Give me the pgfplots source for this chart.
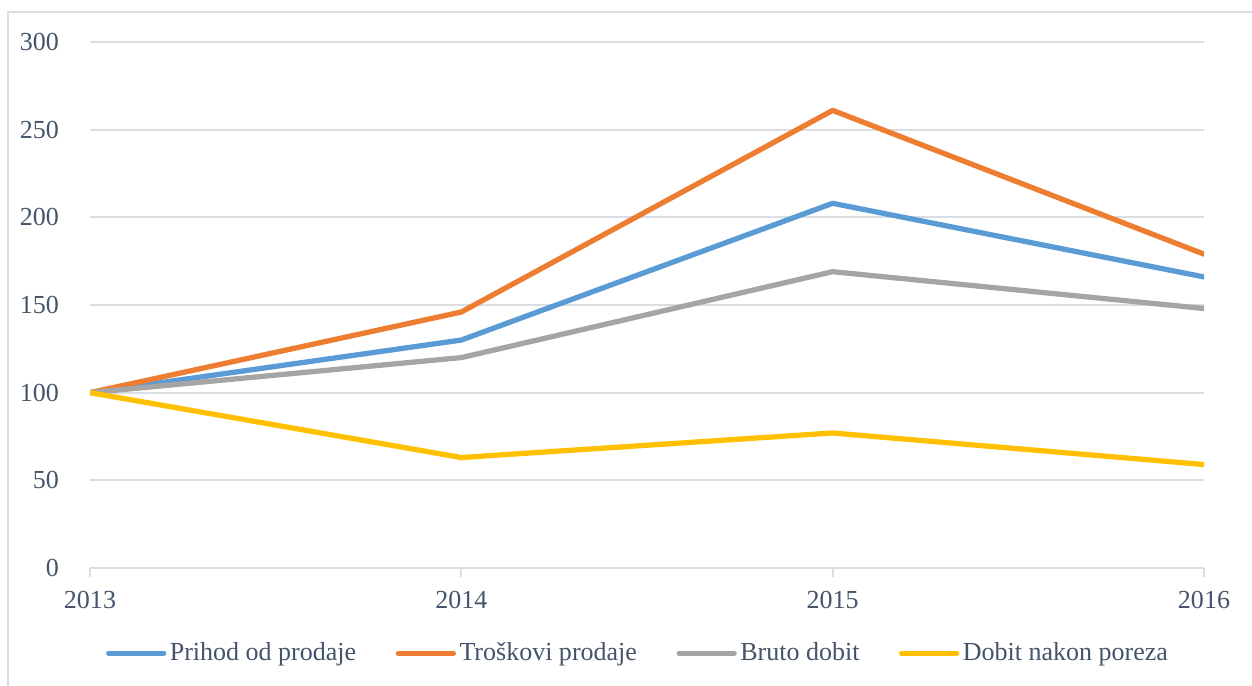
\documentclass[border=0pt]{standalone}
\usepackage{pgfplots}
\pgfplotsset{compat=1.18}
\usepackage{fontspec}
\setmainfont{Liberation Serif}
\definecolor{cblue}{HTML}{5B9BD5}
\definecolor{corange}{HTML}{ED7D31}
\definecolor{cgray}{HTML}{A5A5A5}
\definecolor{cyellow}{HTML}{FFC000}
\definecolor{txt}{HTML}{44546A}
\definecolor{grid}{HTML}{D9DEE4}
\begin{document}
\begin{tikzpicture}
\useasboundingbox (0,0) rectangle (25.04cm,13.72cm);
\draw[grid, line width=1.2pt] (0.16cm,0cm) -- (0.16cm,13.48cm) -- (25.04cm,13.48cm);
\begin{axis}[
  at={(1.8cm,2.36cm)}, anchor=south west,
  scale only axis, width=22.28cm, height=10.52cm,
  xmin=2013, xmax=2016, ymin=0, ymax=300,
  xtick={2013,2014,2015,2016}, ytick={0,50,...,300},
  axis x line*=bottom, axis y line*=left,
  y axis line style={draw=none},
  x axis line style={draw=grid, line width=1.2pt},
  ymajorgrids, grid style={draw=grid, line width=1.2pt},
  major tick length=0.18cm,
  xtick style={draw=grid, line width=1.2pt},
  ytick style={draw=none},
  tick align=outside,
  /pgf/number format/assume math mode=true,
  xticklabel style={/pgf/number format/1000 sep=, yshift=-0.16cm},
  yticklabel style={xshift=-0.32cm},
  tick label style={font=\fontsize{14.8}{16}\selectfont, text=txt},
  legend style={draw=none, at={(0.4926,-0.162)}, anchor=center,
    font=\fontsize{14.8}{16}\selectfont, text=txt,
    /tikz/every even column/.append style={column sep=0.72cm}},
  legend columns=4,
  legend image code/.code={\draw[line width=3pt, line cap=round] (0.1cm,0cm) -- (1.2cm,0cm);},
  every axis plot/.append style={line width=3pt, line join=round, line cap=round},
]
\addplot[cblue] coordinates {(2013,100) (2014,130) (2015,208) (2016,166)};
\addlegendentry{Prihod od prodaje}
\addplot[corange] coordinates {(2013,100) (2014,146) (2015,261) (2016,179)};
\addlegendentry{Troškovi prodaje}
\addplot[cgray] coordinates {(2013,100) (2014,120) (2015,169) (2016,148)};
\addlegendentry{Bruto dobit}
\addplot[cyellow] coordinates {(2013,100) (2014,63) (2015,77) (2016,59)};
\addlegendentry{Dobit nakon poreza}
\end{axis}
\end{tikzpicture}
\end{document}
